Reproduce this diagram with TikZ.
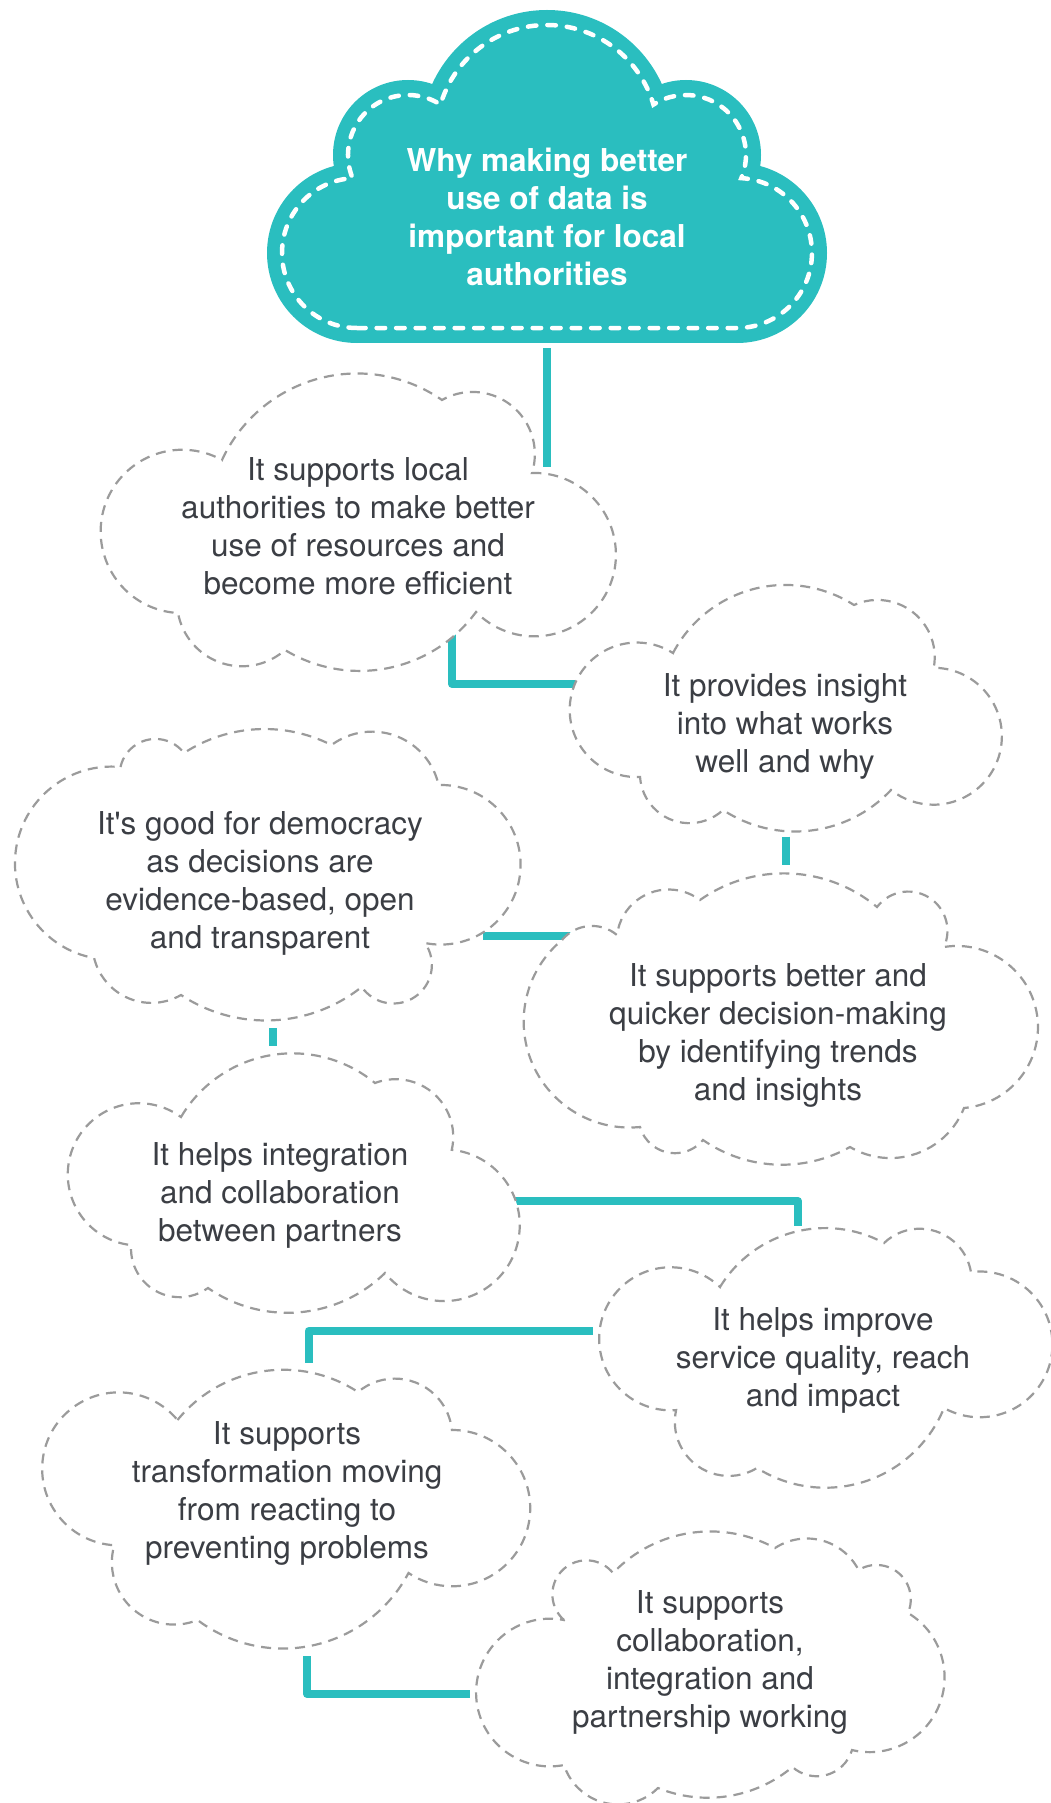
\documentclass[tikz,border=0pt]{standalone}
\usepackage{fontspec}
\setmainfont{TeX Gyre Heros}
\usetikzlibrary{calc}
\definecolor{tealc}{HTML}{2ABEBF}
\definecolor{dashgray}{HTML}{9B9B9B}
\definecolor{txt}{HTML}{3B3E44}
\begin{document}
\begin{tikzpicture}[x=1pt,y=1pt,
  pf/.style={to path={let \p1=(\tikztostart),\p2=(\tikztotarget),
      \n1={atan2(\y2-\y1,\x2-\x1)},\n2={veclen(\x2-\x1,\y2-\y1)} in
      arc[start angle={\n1+90+#1/2},delta angle={-#1},radius={\n2/(2*sin(#1/2))}]}},
  cloudline/.style={draw=dashgray,line width=2.2pt,dash pattern=on 10pt off 7pt,fill=white},
  linkline/.style={draw=tealc,line width=8pt,line join=round},
  cloudtext/.style={font=\fontsize{31.5}{38}\selectfont,text=txt,align=center,inner sep=0pt,
      execute at begin node=\strut,execute at end node=\strut},
  roottext/.style={font=\fontsize{31.5}{38}\selectfont\bfseries,text=white,align=center,inner sep=0pt,
      execute at begin node=\strut,execute at end node=\strut},
]
\useasboundingbox (0,0) rectangle (1050,-1803);

% ---------- top cloud ----------
\fill[tealc] (547,-136) circle[radius=126];
\fill[tealc] (408,-155) circle[radius=75];
\fill[tealc] (686,-155) circle[radius=75];
\fill[tealc] (357,-253) circle[radius=90];
\fill[tealc] (737,-253) circle[radius=90];
\fill[tealc] (357,-343) rectangle (737,-155);
\draw[white,line width=4.5pt,line cap=round,dash pattern=on 8.5pt off 11pt]
  (357,-328) arc[start angle=-90,end angle=-266.66,radius=75]
  arc[start angle=-157.32,end angle=-302.83,radius=60]
  arc[start angle=-196.44,end angle=-343.56,radius=111]
  arc[start angle=-237.17,end angle=-382.68,radius=60]
  arc[start angle=-273.34,end angle=-450,radius=75]
  -- cycle;

% ---------- connector end points ----------
\coordinate (r-out) at (547,-348);
\coordinate (a-in)  at (547,-467);
\coordinate (a-out) at (452,-625);
\coordinate (b-in)  at (575,-684);
\coordinate (b-out) at (785.5,-836.5);
\coordinate (d-in)  at (785.5,-865);
\coordinate (d-out) at (573,-935.5);
\coordinate (c-in)  at (483,-935.5);
\coordinate (c-out) at (273,-1028);
\coordinate (e-in)  at (273,-1046);
\coordinate (e-out) at (508,-1201);
\coordinate (f-in)  at (798,-1226);
\coordinate (f-out) at (593,-1331);
\coordinate (g-in)  at (308.5,-1363);
\coordinate (g-out) at (307,-1656);
\coordinate (h-in)  at (470,-1694);

\draw[linkline] (r-out) -- (a-in);
\draw[linkline] (a-out) |- (b-in);
\draw[linkline] (b-out) -- (d-in);
\draw[linkline] (d-out) -- (c-in);
\draw[linkline] (c-out) -- (e-in);
\draw[linkline] (e-out) -| (f-in);
\draw[linkline] (f-out) -| (g-in);
\draw[linkline] (g-out) |- (h-in);

% ---------- clouds ----------
\draw[cloudline] (222,-460) to[pf=100] (442,-400) to[pf=137] (532,-473) to[pf=227] (476,-612)
  to[pf=85] (285,-650) to[pf=121] (178,-613) to[pf=206] (222,-460) -- cycle;
\draw[cloudline] (673,-653) to[pf=95] (854,-605) to[pf=125] (934,-668) to[pf=218] (891,-790)
  to[pf=80] (723,-810) to[pf=129] (640,-777) to[pf=215] (673,-653) -- cycle;
\draw[cloudline] (120.5,-767) to[pf=130] (184,-753) to[pf=60] (331.5,-745) to[pf=114] (438.6,-785)
  to[pf=193] (425,-943) to[pf=180] (361.6,-987) to[pf=72] (181,-995) to[pf=106] (94,-958)
  to[pf=175] (120.5,-767) -- cycle;
\draw[cloudline] (562,-940) to[pf=90] (617,-935) to[pf=120] (700,-900) to[pf=75] (877,-907)
  to[pf=167] (944,-947) to[pf=184] (964,-1108) to[pf=99] (850,-1147) to[pf=64] (703,-1140)
  to[pf=124] (640,-1127) to[pf=146] (562,-940) -- cycle;
\draw[cloudline] (181,-1117) to[pf=99] (375,-1083) to[pf=124] (452,-1150) to[pf=225] (385,-1273)
  to[pf=79] (208,-1288) to[pf=130] (131,-1245) to[pf=210] (181,-1117) -- cycle;
\draw[cloudline] (720,-1287) to[pf=87] (884,-1243) to[pf=124] (971,-1272) to[pf=216] (944,-1408)
  to[pf=100] (757,-1468) to[pf=134] (676,-1410) to[pf=228] (720,-1287) -- cycle;
\draw[cloudline] (177.5,-1420) to[pf=84] (358,-1392) to[pf=124] (452,-1430) to[pf=214] (408.5,-1573)
  to[pf=99] (197.5,-1620) to[pf=128] (114,-1545) to[pf=227] (177.5,-1420) -- cycle;
\draw[cloudline] (564,-1620) to[pf=190] (613,-1573) to[pf=75] (775,-1548) to[pf=96] (858.6,-1570)
  to[pf=145] (908,-1613) to[pf=163] (852,-1750) to[pf=115] (792.4,-1767) to[pf=62] (658,-1788)
  to[pf=117] (564,-1765) to[pf=202] (564,-1620) -- cycle;

% ---------- texts ----------
\node[roottext] (root) at (547,-222) {Why making better\\use of data is\\important for local\\authorities};
\node[cloudtext] (tA) at (358,-531.5) {It supports local\\authorities to make better\\use of resources and\\become more efficient};
\node[cloudtext] (tB) at (785,-728.5) {It provides insight\\into what works\\well and why};
\node[cloudtext] (tC) at (260,-885.5) {It\textquotesingle s good for democracy\\as decisions are\\evidence-based, open\\and transparent};
\node[cloudtext] (tD) at (778,-1037.5) {It supports better and\\quicker decision-making\\by identifying trends\\and insights};
\node[cloudtext] (tE) at (280,-1198) {It helps integration\\and collaboration\\between partners};
\node[cloudtext] (tF) at (823,-1362.5) {It helps improve\\service quality, reach\\and impact};
\node[cloudtext] (tG) at (287,-1495.5) {It supports\\transformation moving\\from reacting to\\preventing problems};
\node[cloudtext] (tH) at (710,-1664.5) {It supports\\collaboration,\\integration and\\partnership working};
\end{tikzpicture}
\end{document}
